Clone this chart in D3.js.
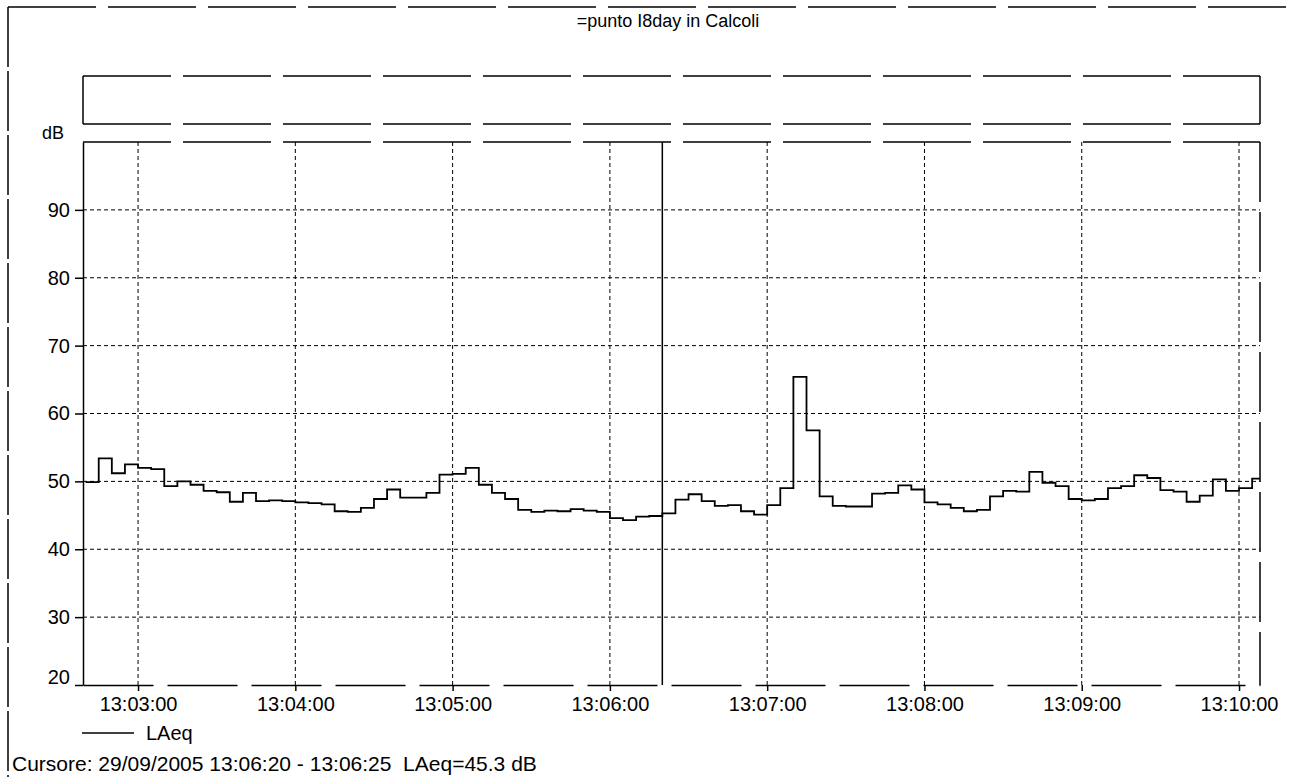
<!DOCTYPE html>
<html>
<head>
<meta charset="utf-8">
<script src="https://cdn.jsdelivr.net/npm/d3@7"></script>
<style>
body { margin: 0; background: #fff; }
text { font-family: Arial, "Liberation Sans", sans-serif; fill: #000; }
</style>
</head>
<body>
<div id="chart"></div>
<script>
var title = "=punto I8day in Calcoli",
	seriesName = "LAeq",
	unit = "dB",
	dateLabel = "29/09/2005",
	startTime = "13:02:40",
	stepSeconds = 5,
	viewStart = "13:02:39",
	viewEnd = "13:10:08",
	cursorTime = "13:06:20";

// one LAeq value per 5 s interval, from 13:02:40
var levels = [
	49.9, 53.4, 51.2, 52.5, 52.0, 51.8, 49.3, 50.0, 49.5, 48.6,
	48.4, 47.0, 48.3, 47.1, 47.2, 47.1, 46.9, 46.8, 46.6, 45.6,
	45.5, 46.1, 47.4, 48.8, 47.6, 47.6, 48.3, 51.0, 51.1, 52.0,
	49.5, 48.3, 47.4, 45.8, 45.5, 45.7, 45.6, 45.9, 45.7, 45.5,
	44.6, 44.3, 44.8, 44.9, 45.3, 47.3, 48.1, 47.1, 46.4, 46.5,
	45.6, 45.1, 46.5, 49.0, 65.4, 57.5, 47.8, 46.4, 46.3, 46.3,
	48.2, 48.3, 49.4, 48.8, 46.9, 46.6, 46.1, 45.6, 45.8, 47.8,
	48.6, 48.5, 51.4, 49.8, 49.3, 47.4, 47.2, 47.4, 49.0, 49.3,
	50.9, 50.5, 48.7, 48.5, 47.0, 47.9, 50.3, 48.6, 49.0, 50.4
];

var timeTicks = ["13:03:00", "13:04:00", "13:05:00", "13:06:00", "13:07:00", "13:08:00", "13:09:00", "13:10:00"],
	dbTicks = [20, 30, 40, 50, 60, 70, 80, 90],
	dbRange = [20, 100];

var svg_width = 1292,
	svg_height = 777,
	plot_left = 83,
	plot_right = 1260,
	plot_top = 142,
	plot_bottom = 685,
	frame_dash = "88,12";

var parseTime = d3.timeParse("%H:%M:%S"),
	fmtTime = d3.timeFormat("%H:%M:%S");

var t0 = parseTime(startTime);
var points = levels.map(function (v, i) {
	return { t: new Date(t0.getTime() + i * stepSeconds * 1000), v: v };
});
// close the last step
points.push({ t: new Date(t0.getTime() + levels.length * stepSeconds * 1000), v: levels[levels.length - 1] });

var x = d3.scaleTime()
	.domain([parseTime(viewStart), parseTime(viewEnd)])
	.range([plot_left, plot_right]);

var y = d3.scaleLinear()
	.domain(dbRange)
	.range([plot_bottom, plot_top]);

var svg = d3.select("#chart").append("svg")
	.attr("width", svg_width)
	.attr("height", svg_height);

// outer frame
svg.append("line")
	.attr("x1", 8).attr("y1", 7).attr("x2", 1286).attr("y2", 7)
	.attr("stroke", "#000").attr("stroke-width", 1.5)
	.attr("stroke-dasharray", frame_dash);
svg.append("line")
	.attr("x1", 8).attr("y1", 7).attr("x2", 8).attr("y2", svg_height)
	.attr("stroke", "#000").attr("stroke-width", 1.5)
	.attr("stroke-dasharray", "60,4");

svg.append("text")
	.attr("x", 668).attr("y", 27)
	.attr("text-anchor", "middle")
	.style("font-size", "18px")
	.text(title);

// empty upper panel
var panel = svg.append("g").attr("stroke", "#000").attr("stroke-width", 1.5);
panel.append("line").attr("x1", plot_left).attr("y1", 76).attr("x2", plot_right).attr("y2", 76).attr("stroke-dasharray", frame_dash);
panel.append("line").attr("x1", plot_left).attr("y1", 124).attr("x2", plot_right).attr("y2", 124).attr("stroke-dasharray", frame_dash);
panel.append("line").attr("x1", plot_left).attr("y1", 76).attr("x2", plot_left).attr("y2", 124);
panel.append("line").attr("x1", plot_right).attr("y1", 76).attr("x2", plot_right).attr("y2", 124);

svg.append("text")
	.attr("x", 42).attr("y", 139)
	.style("font-size", "18px")
	.text(unit);

// grid
var grid = svg.append("g")
	.attr("stroke", "#000")
	.attr("stroke-width", 1)
	.attr("stroke-dasharray", "4,3");

grid.selectAll("line.h")
	.data(dbTicks.filter(function (d) { return d > dbRange[0]; }))
	.enter().append("line")
	.attr("class", "h")
	.attr("x1", plot_left).attr("x2", plot_right)
	.attr("y1", function (d) { return y(d); })
	.attr("y2", function (d) { return y(d); });

grid.selectAll("line.v")
	.data(timeTicks)
	.enter().append("line")
	.attr("class", "v")
	.attr("y1", plot_top).attr("y2", plot_bottom)
	.attr("x1", function (d) { return x(parseTime(d)); })
	.attr("x2", function (d) { return x(parseTime(d)); });

// plot frame top / right
svg.append("line")
	.attr("x1", plot_left).attr("y1", plot_top).attr("x2", plot_right).attr("y2", plot_top)
	.attr("stroke", "#000").attr("stroke-width", 1.5)
	.attr("stroke-dasharray", frame_dash);
svg.append("line")
	.attr("x1", plot_right).attr("y1", plot_top).attr("x2", plot_right).attr("y2", plot_bottom)
	.attr("stroke", "#000").attr("stroke-width", 1.5)
	.attr("stroke-dasharray", "60,10");

// axes
var yAxis = svg.append("g")
	.attr("transform", "translate(" + plot_left + ",0)")
	.call(d3.axisLeft(y).tickValues(dbTicks).tickSize(8).tickSizeOuter(0).tickPadding(5));
yAxis.select(".domain").attr("stroke-width", 1.5);
yAxis.selectAll(".tick line").attr("stroke-width", 1.5);
yAxis.selectAll(".tick text")
	.style("font-size", "20px")
	.style("font-family", "Arial, 'Liberation Sans', sans-serif")
	.filter(function (d) { return d === dbRange[0]; })
	.attr("dy", "-0.1em");

var xAxis = svg.append("g")
	.attr("transform", "translate(0," + plot_bottom + ")")
	.call(d3.axisBottom(x)
		.tickValues(timeTicks.map(parseTime))
		.tickFormat(fmtTime)
		.tickSize(6).tickSizeOuter(0).tickPadding(6));
xAxis.select(".domain").attr("stroke-width", 1.5).attr("stroke-dasharray", "70,14");
xAxis.selectAll(".tick line").attr("stroke-width", 1.5);
xAxis.selectAll(".tick text")
	.style("font-size", "20px")
	.style("font-family", "Arial, 'Liberation Sans', sans-serif");

// LAeq step line
svg.append("clipPath").attr("id", "plotclip")
	.append("rect")
	.attr("x", plot_left).attr("y", plot_top)
	.attr("width", plot_right - plot_left).attr("height", plot_bottom - plot_top);

var line = d3.line()
	.curve(d3.curveStepAfter)
	.x(function (d) { return x(d.t); })
	.y(function (d) { return y(d.v); });

svg.append("path")
	.datum(points)
	.attr("clip-path", "url(#plotclip)")
	.attr("fill", "none")
	.attr("stroke", "#000")
	.attr("stroke-width", 1.8)
	.attr("d", line);

// cursor
var cur = parseTime(cursorTime);
svg.append("line")
	.attr("x1", x(cur)).attr("x2", x(cur))
	.attr("y1", plot_top).attr("y2", plot_bottom)
	.attr("stroke", "#000").attr("stroke-width", 1.5);

// legend
svg.append("line")
	.attr("x1", 82).attr("y1", 733).attr("x2", 134).attr("y2", 733)
	.attr("stroke", "#000").attr("stroke-width", 1.5);
svg.append("text")
	.attr("x", 146).attr("y", 740)
	.style("font-size", "20px")
	.text(seriesName);

// cursor readout
var curIndex = Math.round((cur - t0) / (stepSeconds * 1000));
var curEnd = new Date(cur.getTime() + stepSeconds * 1000);
svg.append("text")
	.attr("x", 12).attr("y", 771)
	.style("font-size", "21px")
	.style("white-space", "pre")
	.text("Cursore: " + dateLabel + " " + cursorTime + " - " + fmtTime(curEnd) + "  " +
		seriesName + "=" + levels[curIndex].toFixed(1) + " " + unit);
</script>
</body>
</html>
